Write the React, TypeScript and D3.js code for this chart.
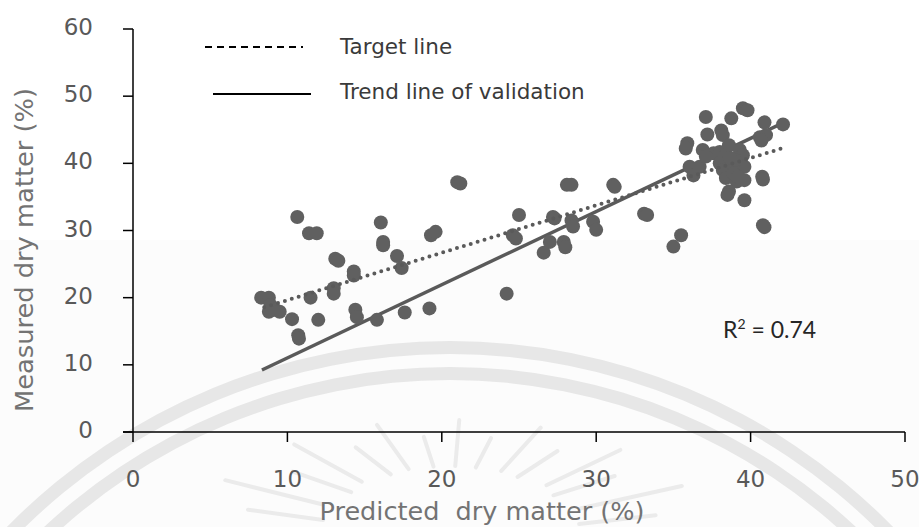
import React, { useEffect } from "react";
import * as d3 from "d3";

// ---- Data ----
const predicted: number[] = [
  8.3, 8.8, 8.9, 9.2, 9.5, 8.8, 10.3, 10.7, 10.75, 10.64, 11.4, 11.9, 11.5, 12.0,
  13.1, 13.3, 13.0, 13.0, 14.3, 14.3, 14.4, 14.5, 15.8, 16.05, 16.2, 16.2, 17.1, 17.4,
  17.6, 19.2, 19.3, 19.6, 21.0, 21.2, 24.2, 24.6, 24.8, 25.0, 26.6, 27.0, 27.2, 27.3,
  27.9, 28.0, 28.1, 28.4, 28.4, 28.5, 29.8, 30.0, 31.1, 31.2, 33.1, 33.3, 35.0, 35.5,
  35.9, 35.8, 36.05, 36.3, 36.7, 36.9, 37.1, 37.2, 37.6, 38.0, 38.4, 38.0, 38.2, 38.1,
  38.2, 38.6, 38.75, 38.4, 39.1, 39.6, 38.6, 38.5, 39.3, 39.5, 39.3, 39.6, 39.5, 39.8,
  39.6, 40.6, 41.0, 40.75, 40.8, 40.8, 40.9, 40.9, 42.1, 38.8, 39.0, 38.9, 39.2, 38.7,
  40.7, 37.1,
];
const measured: number[] = [
  20.0, 20.0, 18.9, 18.2, 17.9, 17.9, 16.8, 14.4, 13.9, 32.0, 29.6, 29.6, 20.0, 16.7,
  25.8, 25.5, 21.4, 20.6, 23.9, 23.3, 18.2, 17.1, 16.7, 31.2, 28.3, 27.8, 26.2, 24.4,
  17.8, 18.4, 29.3, 29.8, 37.2, 37.0, 20.6, 29.3, 28.8, 32.3, 26.7, 28.3, 32.0, 31.8,
  28.3, 27.5, 36.8, 36.8, 31.5, 30.6, 31.3, 30.1, 36.8, 36.5, 32.5, 32.3, 27.6, 29.3,
  43.0, 42.2, 39.5, 38.2, 39.5, 42.0, 46.9, 44.3, 41.5, 41.7, 41.2, 40.0, 39.0, 44.9,
  44.2, 42.7, 46.7, 37.8, 37.3, 37.5, 35.8, 35.3, 42.0, 41.2, 40.2, 39.5, 48.2, 47.9,
  34.5, 43.9, 44.2, 38.0, 37.6, 30.8, 30.5, 46.1, 45.8, 39.5, 40.5, 38.5, 38.0, 40.8,
  43.4, 41.0,
];
// Lines: [x, y] end points
const trendLineX: number[] = [8.35, 42.07];
const trendLineY: number[] = [9.23, 45.98];
const targetLineX: number[] = [8.5, 42.07];
const targetLineY: number[] = [18.57, 42.26];

const xTicks: number[] = [0, 10, 20, 30, 40, 50];
const yTicks: number[] = [0, 10, 20, 30, 40, 50, 60];
const xTitle = "Predicted  dry matter (%)";
const yTitle = "Measured dry matter (%)";
const legendLabels: string[] = ["Target line", "Trend line of validation"];
const r2Label = "0.74";

// watermark decoration ray angles (degrees)
const rayAngles: number[] = [-172, -160, -148, -137, -126, -116, -106, -97, -88, -79, -70, -60, -50, -40, -29, -17];

export default function App() {
  useEffect(() => {
    document.body.style.margin = "0";
  }, []);

  const W = 919;
  const H = 527;
  const x = d3.scaleLinear().domain([0, 50]).range([133, 905]);
  const y = d3.scaleLinear().domain([0, 60]).range([432, 29]);

  const line = d3
    .line<[number, number]>()
    .x((d) => x(d[0]))
    .y((d) => y(d[1]));

  const trendPts: [number, number][] = trendLineX.map((v, i) => [v, trendLineY[i]]);
  const targetPts: [number, number][] = targetLineX.map((v, i) => [v, targetLineY[i]]);

  const ptColor = "#606060";
  const lineColor = "#5a5a5a";
  const tickColor = "#595959";
  const titleColor = "#737373";
  const font = "'DejaVu Sans', Verdana, sans-serif";

  const arc = d3.arc();
  const wmCx = 450;
  const wmCy = 962;
  const outerArc = arc({ innerRadius: 608, outerRadius: 621, startAngle: -Math.PI / 2, endAngle: Math.PI / 2 }) as string;
  const innerArc = arc({ innerRadius: 582, outerRadius: 595, startAngle: -Math.PI / 2, endAngle: Math.PI / 2 }) as string;
  const rayCx = 450;
  const rayCy = 548;

  return (
    <svg width={W} height={H} style={{ display: "block" }} xmlns="http://www.w3.org/2000/svg">
      <rect x={0} y={0} width={W} height={H} fill="#ffffff" />
      <rect x={0} y={240} width={W} height={H - 240} fill="#fcfcfc" />
      {/* watermark */}
      <g>
        <path d={outerArc} transform={`translate(${wmCx},${wmCy})`} fill="#e7e7e7" />
        <path d={innerArc} transform={`translate(${wmCx},${wmCy})`} fill="#e7e7e7" />
        {rayAngles.map((a, i) => {
          const rad = (a * Math.PI) / 180;
          const long = i % 2 === 0;
          const ox = long ? 265 : 215;
          const oy = long ? 128 : 112;
          const ix = long ? 150 : 135;
          const iy = long ? 82 : 82;
          return (
            <line
              key={i}
              x1={rayCx + ix * Math.cos(rad)}
              y1={rayCy + iy * Math.sin(rad)}
              x2={rayCx + ox * Math.cos(rad)}
              y2={rayCy + oy * Math.sin(rad)}
              stroke="#ebebeb"
              strokeWidth={4}
              strokeLinecap="round"
            />
          );
        })}
      </g>

      {/* axes */}
      <line x1={x(0)} y1={y(60)} x2={x(0)} y2={y(0)} stroke="#000" strokeWidth={1.5} />
      <line x1={x(0) - 10} y1={y(0)} x2={x(50)} y2={y(0)} stroke="#000" strokeWidth={1.5} />
      {yTicks.map((t) => (
        <g key={"y" + t}>
          <line x1={x(0) - 10} x2={x(0)} y1={y(t)} y2={y(t)} stroke="#000" strokeWidth={1.5} />
          <text x={93} y={y(t) + 6} textAnchor="end" fontFamily={font} fontSize={23} fill={tickColor}>
            {t}
          </text>
        </g>
      ))}
      {xTicks.map((t) => (
        <g key={"x" + t}>
          <line x1={x(t)} x2={x(t)} y1={y(0)} y2={y(0) + 10} stroke="#000" strokeWidth={1.5} />
          <text x={x(t)} y={487} textAnchor="middle" fontFamily={font} fontSize={23} fill={tickColor}>
            {t}
          </text>
        </g>
      ))}

      {/* axis titles */}
      <text
        x={482}
        y={520}
        textAnchor="middle"
        fontFamily={font}
        fontSize={24}
        fill={titleColor}
        textLength={325}
        lengthAdjust="spacingAndGlyphs"
        style={{ whiteSpace: "pre" }}
      >
        {xTitle}
      </text>
      <text
        transform={`translate(33,250) rotate(-90)`}
        textAnchor="middle"
        fontFamily={font}
        fontSize={24}
        fill={titleColor}
        textLength={324}
        lengthAdjust="spacingAndGlyphs"
      >
        {yTitle}
      </text>

      {/* trend line */}
      <path d={line(trendPts) as string} stroke={lineColor} strokeWidth={3.5} fill="none" />

      {/* points */}
      {predicted.map((p, i) => (
        <circle key={i} cx={x(p)} cy={y(measured[i])} r={7} fill={ptColor} />
      ))}

      {/* target line (dotted) */}
      <path
        d={line(targetPts) as string}
        stroke={lineColor}
        strokeWidth={4}
        strokeDasharray="0 7.2"
        strokeLinecap="round"
        fill="none"
      />

      {/* legend */}
      <line x1={205} x2={303} y1={47} y2={47} stroke="#000" strokeWidth={2} strokeDasharray="7 5" />
      <text x={340} y={54} fontFamily={font} fontSize={21.5} fill="#3a3a3a">
        {legendLabels[0]}
      </text>
      <line x1={213} x2={311} y1={94} y2={94} stroke="#000" strokeWidth={2} />
      <text x={340} y={99} fontFamily={font} fontSize={21.5} fill="#3a3a3a">
        {legendLabels[1]}
      </text>

      {/* R2 */}
      <text x={723} y={338} fontFamily="Lato, 'Open Sans', sans-serif" fontSize={23} fill="#262626">
        R<tspan dy={-9} fontSize={14}>2</tspan>
        <tspan dy={9}>{" = " + r2Label}</tspan>
      </text>
    </svg>
  );
}
